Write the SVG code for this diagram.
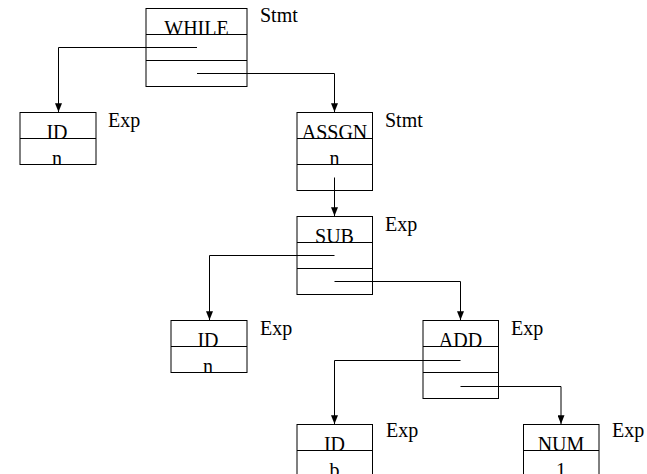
<svg xmlns="http://www.w3.org/2000/svg" width="647" height="474" viewBox="0 0 647 474">
<style>
.box{fill:#fff;stroke:#000;stroke-width:1}
.div{stroke:#000;stroke-width:1}
.t{font-family:"Liberation Serif","Times New Roman",serif;font-size:20px;fill:#000}
.c{text-anchor:middle}
.con{fill:none;stroke:#000;stroke-width:1}
</style>
<defs>
<marker id="arr" viewBox="0 0 10 8" refX="10" refY="4" markerWidth="9" markerHeight="7" markerUnits="userSpaceOnUse" orient="auto">
<path d="M0,0 L10,4 L0,8 Z" fill="#000"/>
</marker>
</defs>
<rect width="647" height="474" fill="#fff"/>
<g id="n-while">
<rect class="box" x="146" y="8.5" width="101" height="78"/>
<line class="div" x1="146" y1="34.5" x2="247" y2="34.5"/>
<line class="div" x1="146" y1="60.5" x2="247" y2="60.5"/>
<text class="t c" x="196.5" y="34.5">WHILE</text>
<text class="t" x="260" y="22">Stmt</text>
</g>
<g id="n-id1">
<rect class="box" x="20" y="112.5" width="76" height="52"/>
<line class="div" x1="20" y1="138.5" x2="96" y2="138.5"/>
<text class="t c" x="57" y="138.5">ID</text>
<text class="t c" x="57" y="164.5">n</text>
<text class="t" x="108" y="126.5">Exp</text>
</g>
<g id="n-assgn">
<rect class="box" x="297" y="112.5" width="75.5" height="78"/>
<line class="div" x1="297" y1="138.5" x2="372.5" y2="138.5"/>
<line class="div" x1="297" y1="164.5" x2="372.5" y2="164.5"/>
<text class="t c" x="334.5" y="138.5">ASSGN</text>
<text class="t c" x="334.5" y="164.5">n</text>
<text class="t" x="385" y="126.5">Stmt</text>
</g>
<g id="n-sub">
<rect class="box" x="297" y="216.5" width="75.5" height="78"/>
<line class="div" x1="297" y1="242.5" x2="372.5" y2="242.5"/>
<line class="div" x1="297" y1="268.5" x2="372.5" y2="268.5"/>
<text class="t c" x="334.5" y="242.5">SUB</text>
<text class="t" x="385" y="230.5">Exp</text>
</g>
<g id="n-id2">
<rect class="box" x="171" y="320.5" width="76" height="52"/>
<line class="div" x1="171" y1="346.5" x2="247" y2="346.5"/>
<text class="t c" x="208" y="346.5">ID</text>
<text class="t c" x="208" y="372.5">n</text>
<text class="t" x="260" y="334.5">Exp</text>
</g>
<g id="n-add">
<rect class="box" x="423" y="320.5" width="75.5" height="78"/>
<line class="div" x1="423" y1="346.5" x2="498.5" y2="346.5"/>
<line class="div" x1="423" y1="372.5" x2="498.5" y2="372.5"/>
<text class="t c" x="460.5" y="346.5">ADD</text>
<text class="t" x="511" y="334.5">Exp</text>
</g>
<g id="n-id3">
<rect class="box" x="297" y="424.5" width="75.5" height="52"/>
<line class="div" x1="297" y1="450.5" x2="372.5" y2="450.5"/>
<text class="t c" x="334.5" y="450.5">ID</text>
<text class="t c" x="334.5" y="476.5">b</text>
<text class="t" x="386" y="436.5">Exp</text>
</g>
<g id="n-num">
<rect class="box" x="523.5" y="424.5" width="75.5" height="52"/>
<line class="div" x1="523.5" y1="450.5" x2="599" y2="450.5"/>
<text class="t c" x="561" y="450.5">NUM</text>
<text class="t c" x="561" y="476.5">1</text>
<text class="t" x="612" y="436.5">Exp</text>
</g>
<g id="connectors">
<polyline class="con" points="197,47.5 58.5,47.5 58.5,112" marker-end="url(#arr)"/>
<polyline class="con" points="197,73.5 334.5,73.5 334.5,112" marker-end="url(#arr)"/>
<polyline class="con" points="334.5,177.5 334.5,216" marker-end="url(#arr)"/>
<polyline class="con" points="334.5,255.5 209.5,255.5 209.5,320" marker-end="url(#arr)"/>
<polyline class="con" points="334.5,281.5 460.5,281.5 460.5,320" marker-end="url(#arr)"/>
<polyline class="con" points="460.5,360.5 334.5,360.5 334.5,424" marker-end="url(#arr)"/>
<polyline class="con" points="460.5,386.5 561,386.5 561,424" marker-end="url(#arr)"/>
</g>
</svg>
